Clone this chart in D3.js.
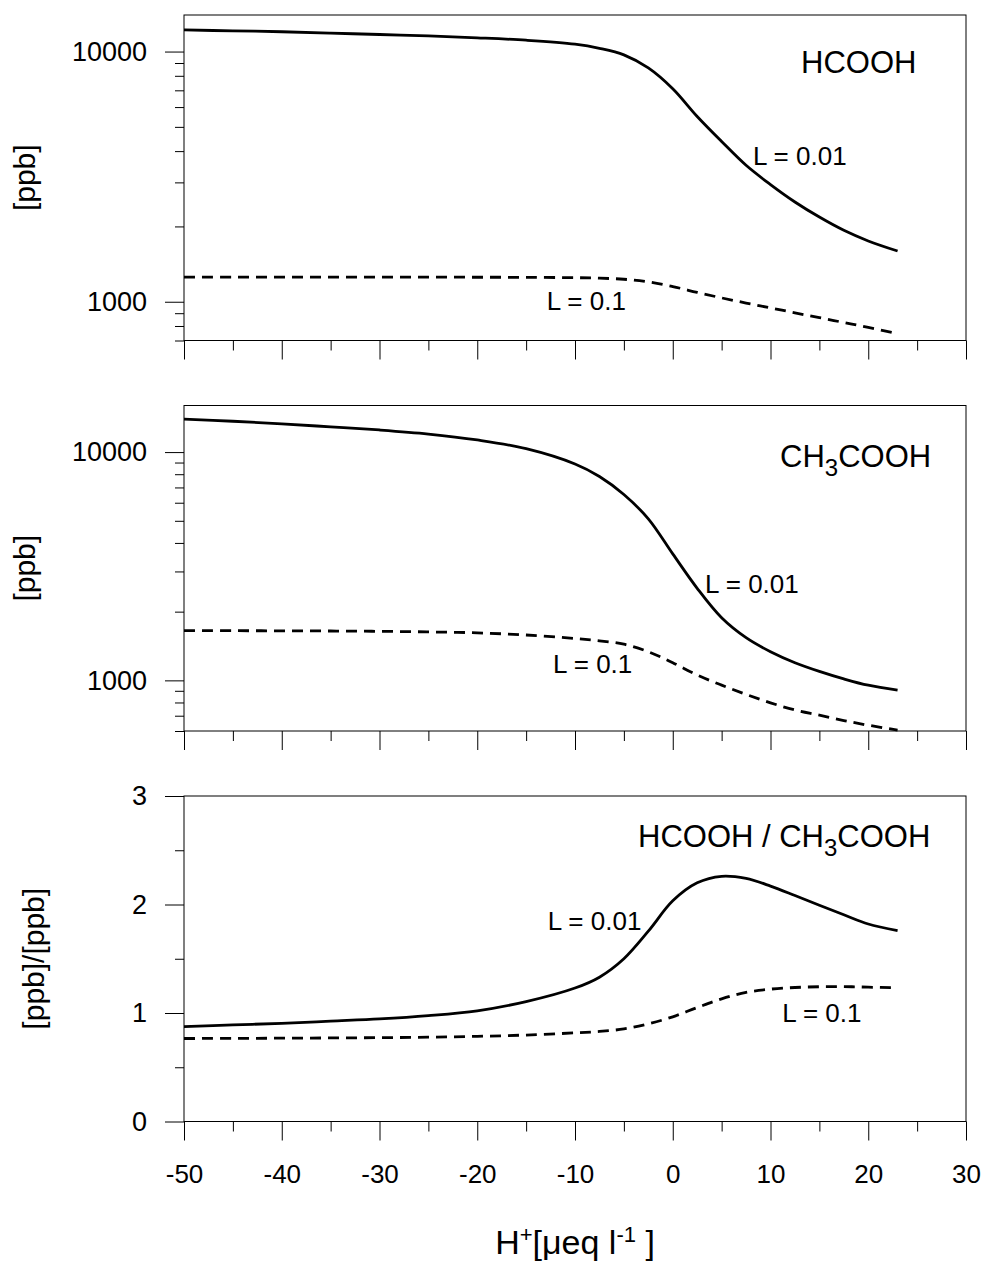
<!DOCTYPE html>
<html>
<head>
<meta charset="utf-8">
<script src="https://cdn.jsdelivr.net/npm/d3@7"></script>
<style>
  body { margin: 0; background: #fff; }
  svg { display: block; font-family: "Liberation Sans", Arial, sans-serif; }
  .tick line { stroke: #000; stroke-width: 1; }
</style>
</head>
<body>
<svg id="chart" width="983" height="1265"></svg>
<script>
// H+ values along the x axis (µeq/l)
var hPlus = [-50, -45, -40, -35, -30, -25, -20, -15, -10, -7.5, -5, -2.5, 0, 2.5, 5, 7.5, 10, 12.5, 15, 17.5, 20, 23];

// HCOOH [ppb]
var hcoohL001 = [12200, 12100, 12000, 11850, 11700, 11550, 11350, 11100, 10700, 10300, 9700, 8600, 7100, 5500, 4370, 3510, 2940, 2505, 2180, 1930, 1750, 1595];
var hcoohL01 = [1255, 1255, 1255, 1255, 1254, 1254, 1253, 1252, 1248, 1242, 1230, 1200, 1150, 1090, 1036, 988, 945, 903, 864, 826, 790, 745];

// CH3COOH [ppb]
var aceticL001 = [13950, 13650, 13300, 12900, 12500, 12000, 11300, 10350, 8870, 7820, 6520, 5100, 3580, 2530, 1880, 1538, 1335, 1195, 1095, 1015, 952, 907];
var aceticL01 = [1650, 1650, 1648, 1645, 1640, 1630, 1615, 1580, 1525, 1490, 1440, 1335, 1195, 1055, 953, 868, 797, 742, 704, 667, 636, 606];

// HCOOH / CH3COOH ratio
var ratioL001 = [0.875, 0.89, 0.905, 0.925, 0.945, 0.975, 1.02, 1.105, 1.23, 1.33, 1.50, 1.754, 2.034, 2.20, 2.26, 2.24, 2.17, 2.083, 1.993, 1.905, 1.82, 1.76];
var ratioL01 = [0.765, 0.766, 0.768, 0.770, 0.773, 0.777, 0.785, 0.797, 0.817, 0.830, 0.853, 0.90, 0.965, 1.05, 1.13, 1.19, 1.22, 1.235, 1.242, 1.243, 1.238, 1.232];

// ticks
var xMajor = [-50, -40, -30, -20, -10, 0, 10, 20, 30];
var xMinor = [-45, -35, -25, -15, -5, 5, 15, 25];
var topMajor = [1000, 10000];
var topMinor = [700, 800, 900, 2000, 3000, 4000, 5000, 6000, 7000, 8000, 9000];
var midMajor = [1000, 10000];
var midMinor = [600, 700, 800, 900, 2000, 3000, 4000, 5000, 6000, 7000, 8000, 9000];
var ratioMajor = [0, 1, 2, 3];
var ratioMinor = [0.5, 1.5, 2.5];

var svg = d3.select("#chart"),
    left = 184,
    right = 966,
    panelH = 325.5;

var x = d3.scaleLinear().domain([-50, 30]).range([left, right]);

var panels = [
  { top: 15, scale: d3.scaleLog().domain([700, 14000]), major: topMajor, minor: topMinor,
    solid: hcoohL001, dashed: hcoohL01, ylabel: "[ppb]", ylabelX: 35,
    title: [["HCOOH", 0]], titleX: 801, titleDy: 58,
    lab1: [8.2, 3510], lab2: [-12.9, 923], xlabels: false },
  { top: 405.5, scale: d3.scaleLog().domain([600, 16000]), major: midMajor, minor: midMinor,
    solid: aceticL001, dashed: aceticL01, ylabel: "[ppb]", ylabelX: 35,
    title: [["CH", 0], ["3", 1], ["COOH", 2]], titleX: 780, titleDy: 61.5,
    lab1: [3.3, 2412], lab2: [-12.25, 1077], xlabels: false },
  { top: 796, scale: d3.scaleLinear().domain([0, 3]), major: ratioMajor, minor: ratioMinor,
    solid: ratioL001, dashed: ratioL01, ylabel: "[ppb]/[ppb]", ylabelX: 44,
    title: [["HCOOH / CH", 0], ["3", 1], ["COOH", 2]], titleX: 638, titleDy: 51,
    lab1: [-12.8, 1.764], lab2: [11.2, 0.917], xlabels: true }
];

panels.forEach(function (p) {
  var y = p.scale.range([p.top + panelH, p.top]);
  var g = svg.append("g");

  // frame
  g.append("rect")
    .attr("x", left).attr("y", p.top)
    .attr("width", right - left).attr("height", panelH)
    .attr("fill", "none").attr("stroke", "#000").attr("stroke-width", 1);

  // x axis (major + minor)
  var xa = g.append("g")
    .attr("transform", "translate(0," + (p.top + panelH) + ")")
    .call(d3.axisBottom(x).tickValues(xMajor).tickSize(19).tickPadding(24)
      .tickFormat(function (d) { return p.xlabels ? String(d) : ""; }));
  xa.select(".domain").remove();
  xa.selectAll("text").attr("font-size", 26).attr("fill", "#000")
    .attr("font-family", "'Liberation Sans', Arial, sans-serif");

  g.append("g")
    .attr("transform", "translate(0," + (p.top + panelH) + ")")
    .call(d3.axisBottom(x).tickValues(xMinor).tickSize(10).tickFormat(""))
    .select(".domain").remove();

  // y axis (major + minor)
  var ya = g.append("g")
    .attr("transform", "translate(" + left + ",0)")
    .call(d3.axisLeft(y).tickValues(p.major).tickSize(19).tickPadding(18)
      .tickFormat(function (d) { return String(d); }));
  ya.select(".domain").remove();
  ya.selectAll("text").attr("font-size", 27).attr("fill", "#000")
    .attr("font-family", "'Liberation Sans', Arial, sans-serif");

  g.append("g")
    .attr("transform", "translate(" + left + ",0)")
    .call(d3.axisLeft(y).tickValues(p.minor).tickSize(9).tickFormat(""))
    .select(".domain").remove();

  // curves
  var line = d3.line()
    .x(function (d, i) { return x(hPlus[i]); })
    .y(function (d) { return y(d); })
    .curve(d3.curveCatmullRom.alpha(0.5));

  g.append("path").datum(p.solid)
    .attr("d", line)
    .attr("fill", "none").attr("stroke", "#000").attr("stroke-width", 2.8);

  g.append("path").datum(p.dashed)
    .attr("d", line)
    .attr("fill", "none").attr("stroke", "#000").attr("stroke-width", 2.8)
    .attr("stroke-dasharray", "11,7");

  // curve labels
  g.append("text")
    .attr("x", x(p.lab1[0])).attr("y", y(p.lab1[1]))
    .attr("font-size", 26).text("L = 0.01");
  g.append("text")
    .attr("x", x(p.lab2[0])).attr("y", y(p.lab2[1]))
    .attr("font-size", 26).text("L = 0.1");

  // panel title
  var t = g.append("text")
    .attr("x", p.titleX).attr("y", p.top + p.titleDy)
    .attr("font-size", 31);
  p.title.forEach(function (part) {
    var s = t.append("tspan").text(part[0]);
    if (part[1] === 1) s.attr("font-size", 24).attr("dy", 9);
    if (part[1] === 2) s.attr("dy", -9);
  });

  // y label
  svg.append("text")
    .attr("transform", "translate(" + p.ylabelX + "," + (p.top + panelH / 2) + ") rotate(-90)")
    .attr("text-anchor", "middle")
    .attr("font-size", 30)
    .text(p.ylabel);
});

// x axis title
var xt = svg.append("text")
  .attr("x", (left + right) / 2).attr("y", 1254)
  .attr("text-anchor", "middle")
  .attr("font-size", 34);
xt.append("tspan").text("H");
xt.append("tspan").attr("font-size", 22).attr("dy", -12).text("+");
xt.append("tspan").attr("dy", 12).text("[\u03bceq l");
xt.append("tspan").attr("font-size", 22).attr("dy", -12).text("-1");
xt.append("tspan").attr("dy", 12).text(" ]");
</script>
</body>
</html>
